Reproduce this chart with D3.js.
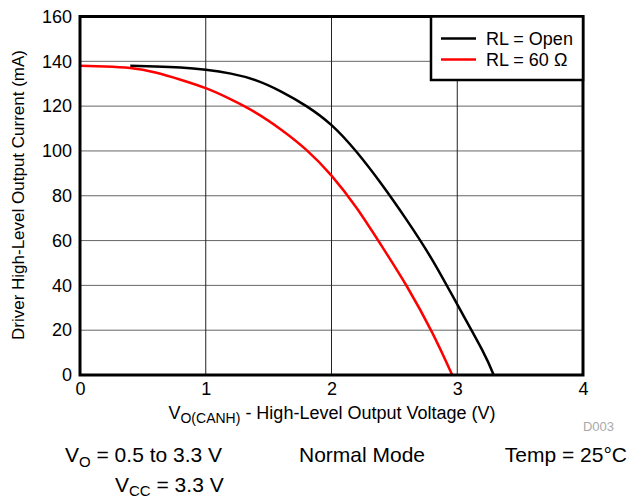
<!DOCTYPE html>
<html>
<head>
<meta charset="utf-8">
<script src="https://cdn.jsdelivr.net/npm/d3@7"></script>
<style>
  body { margin: 0; background: #fff; }
  text { font-family: "Liberation Sans", Arial, sans-serif; }
</style>
</head>
<body>
<div id="chart"></div>
<script>
// data
const openV = [0.4, 0.6, 0.8, 1.0, 1.2, 1.4, 1.6, 1.8, 2.0, 2.2, 2.4, 2.6, 2.8, 3.0, 3.2, 3.29];
const openI = [138, 137.7, 137.2, 136.2, 134.5, 131.5, 126.5, 120, 111.5, 99.5, 85, 69, 51.5, 31.5, 11, 0];
const r60V = [0, 0.2, 0.4, 0.6, 0.8, 1.0, 1.2, 1.4, 1.6, 1.8, 2.0, 2.2, 2.4, 2.6, 2.8, 2.96];
const r60I = [138, 137.7, 137, 135, 131.8, 128, 123, 117, 109.5, 100.5, 89, 74.5, 57.5, 39.5, 19, 0];
const xTicks = [0, 1, 2, 3, 4];
const yTicks = [0, 20, 40, 60, 80, 100, 120, 140, 160];
const seriesNames = ["RL = Open", "RL = 60 \u03A9"];
const seriesColors = ["#000", "#ff0000"];

const width = 629, height = 500;
const marginLeft = 80, marginTop = 16.5, plotRight = 583, plotBottom = 375;

const svg = d3.select("#chart").append("svg")
    .attr("width", width)
    .attr("height", height);

const x = d3.scaleLinear().domain([0, 4]).range([marginLeft, plotRight]);
const y = d3.scaleLinear().domain([0, 160]).range([plotBottom, marginTop]);

// grid
svg.append("g")
  .selectAll("line")
  .data(yTicks.slice(1, -1))
  .join("line")
    .attr("x1", marginLeft).attr("x2", plotRight)
    .attr("y1", d => y(d)).attr("y2", d => y(d))
    .attr("stroke", "#666").attr("stroke-width", 1);

svg.append("g")
  .selectAll("line")
  .data(xTicks.slice(1, -1))
  .join("line")
    .attr("x1", d => x(d)).attr("x2", d => x(d))
    .attr("y1", marginTop).attr("y2", plotBottom)
    .attr("stroke", "#222").attr("stroke-width", 1);

// axes (labels only)
const xAxis = d3.axisBottom(x).tickValues(xTicks).tickFormat(d3.format("d")).tickSize(0).tickPadding(7);
svg.append("g")
    .attr("transform", `translate(0,${plotBottom})`)
    .call(xAxis)
    .call(g => g.select(".domain").remove())
    .call(g => g.selectAll("text").attr("font-size", 18).attr("fill", "#000")
      .style("font-family", "'Liberation Sans', Arial, sans-serif"));

const yAxis = d3.axisLeft(y).tickValues(yTicks).tickSize(0).tickPadding(8);
svg.append("g")
    .attr("transform", `translate(${marginLeft},0)`)
    .call(yAxis)
    .call(g => g.select(".domain").remove())
    .call(g => g.selectAll("text").attr("font-size", 18).attr("fill", "#000")
      .style("font-family", "'Liberation Sans', Arial, sans-serif"));

// curves
const line = d3.line()
    .x(d => x(d[0]))
    .y(d => y(d[1]))
    .curve(d3.curveNatural);

const series = [
  d3.zip(openV, openI),
  d3.zip(r60V, r60I)
];

svg.append("g")
  .selectAll("path")
  .data(series)
  .join("path")
    .attr("d", line)
    .attr("fill", "none")
    .attr("stroke", (d, i) => seriesColors[i])
    .attr("stroke-width", 2.5);

// frame
svg.append("rect")
    .attr("x", marginLeft).attr("y", marginTop)
    .attr("width", plotRight - marginLeft).attr("height", plotBottom - marginTop)
    .attr("fill", "none").attr("stroke", "#000").attr("stroke-width", 3);

// legend
const legend = svg.append("g");
legend.append("rect")
    .attr("x", 431).attr("y", marginTop)
    .attr("width", plotRight - 431).attr("height", 80 - marginTop)
    .attr("fill", "#fff").attr("stroke", "#000").attr("stroke-width", 2.5);

seriesNames.forEach((name, i) => {
  const ly = 38.5 + i * 21;
  legend.append("line")
      .attr("x1", 441).attr("x2", 476)
      .attr("y1", ly).attr("y2", ly)
      .attr("stroke", seriesColors[i]).attr("stroke-width", 2.5);
  legend.append("text")
      .attr("x", 486).attr("y", ly + 6.5)
      .attr("font-size", 18)
      .text(name);
});

// axis titles
svg.append("text")
    .attr("transform", `translate(24,195) rotate(-90)`)
    .attr("text-anchor", "middle")
    .attr("font-size", 17)
    .text("Driver High-Level Output Current (mA)");

const xt = svg.append("text")
    .attr("x", 332).attr("y", 419)
    .attr("text-anchor", "middle")
    .attr("font-size", 18);
xt.append("tspan").text("V");
xt.append("tspan").attr("font-size", 14).attr("dy", 4).text("O(CANH)");
xt.append("tspan").attr("dy", -4).text(" - High-Level Output Voltage (V)");

svg.append("text")
    .attr("x", 614).attr("y", 431)
    .attr("text-anchor", "end")
    .attr("font-size", 13)
    .attr("fill", "#aaa")
    .text("D003");

// conditions
const c1 = svg.append("text")
    .attr("x", 65).attr("y", 462)
    .attr("font-size", 21);
c1.append("tspan").text("V");
c1.append("tspan").attr("font-size", 15).attr("dy", 5).text("O");
c1.append("tspan").attr("dy", -5).text(" = 0.5 to 3.3 V");

const c2 = svg.append("text")
    .attr("x", 115).attr("y", 492)
    .attr("font-size", 21);
c2.append("tspan").text("V");
c2.append("tspan").attr("font-size", 15).attr("dy", 4).text("CC");
c2.append("tspan").attr("dy", -4).text(" = 3.3 V");

svg.append("text")
    .attr("x", 362).attr("y", 462)
    .attr("text-anchor", "middle")
    .attr("font-size", 21)
    .text("Normal Mode");

svg.append("text")
    .attr("x", 627).attr("y", 462)
    .attr("text-anchor", "end")
    .attr("font-size", 21)
    .text("Temp = 25\u00B0C");
</script>
</body>
</html>
